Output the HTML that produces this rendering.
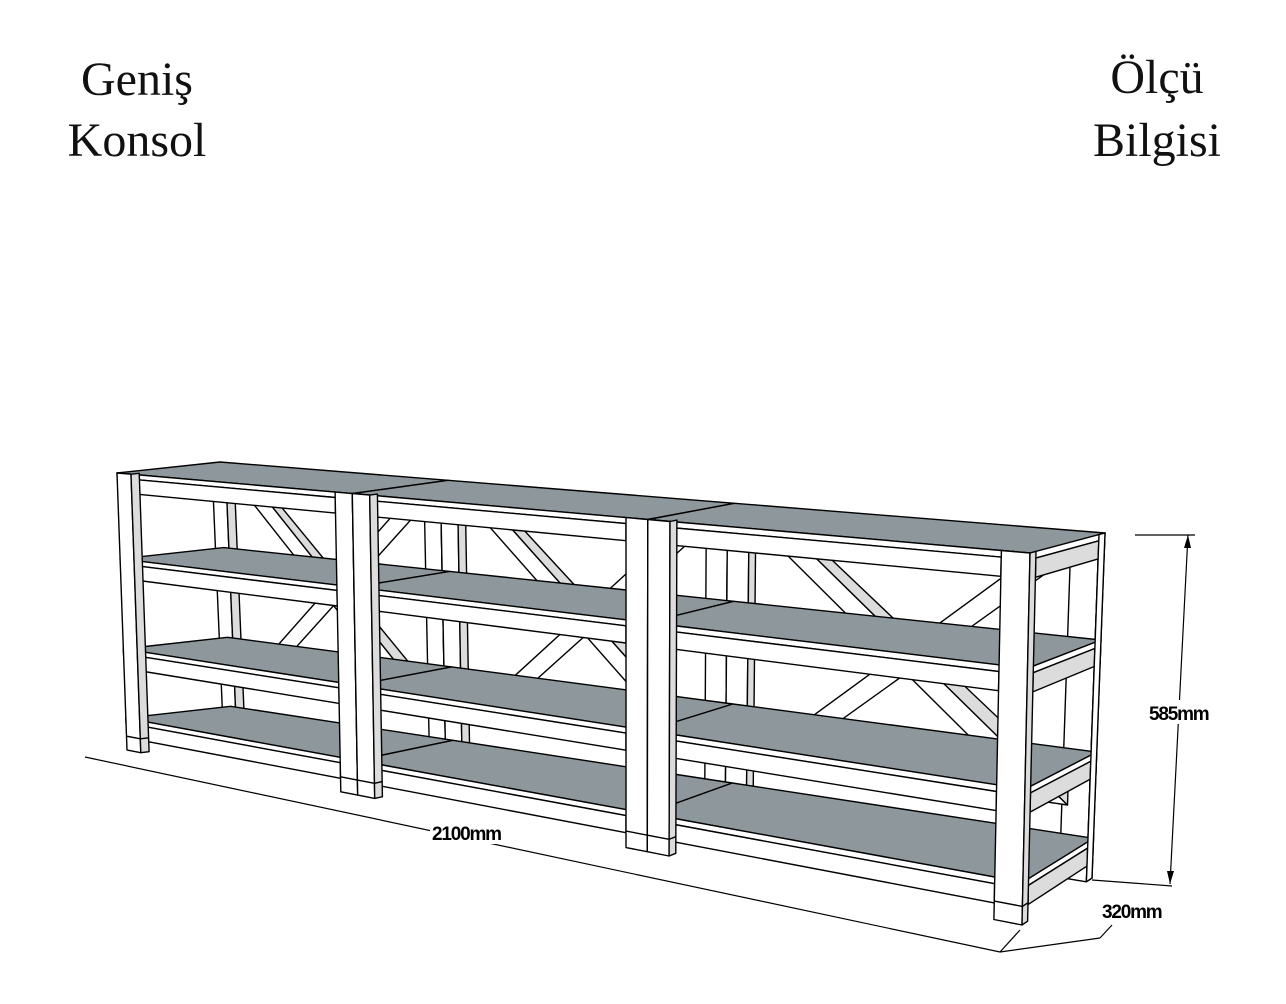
<!DOCTYPE html>
<html><head><meta charset="utf-8">
<style>
html,body{margin:0;padding:0;background:#fff;}
#wrap{position:relative;width:1286px;height:1004px;overflow:hidden;background:#fff;}
.t{position:absolute;font-family:"Liberation Serif",serif;font-size:48px;color:#111;text-align:center;width:300px;line-height:56px;}
svg{position:absolute;left:0;top:0;}
.d{font-family:"Liberation Sans",sans-serif;font-weight:bold;font-size:19px;letter-spacing:-1.2px;fill:#000;}
</style></head><body>
<div id="wrap">
<div class="t" style="left:-13px;top:52px">Geniş</div>
<div class="t" style="left:-13px;top:113px">Konsol</div>
<div class="t" style="left:1007px;top:50px">Ölçü</div>
<div class="t" style="left:1007px;top:113px">Bilgisi</div>
<svg id="s" width="1286" height="1004" viewBox="0 0 1286 1004">
<g id="g" stroke="#000" stroke-width="1.4" stroke-linejoin="round"></g>
<g stroke="#000" stroke-width="1.2" fill="none">
<line x1="85" y1="757" x2="1000" y2="952"/>
<line x1="1000" y1="952" x2="1020" y2="930"/>
<line x1="1000" y1="952" x2="1100" y2="938"/>
<line x1="1100" y1="938" x2="1112" y2="925"/>
<line x1="1092" y1="880" x2="1172" y2="886"/>
<line x1="1135" y1="535" x2="1195" y2="535"/>
<line x1="1188" y1="535" x2="1170" y2="884"/>
</g>
<polygon points="1188,535 1184,548 1191,548" fill="#000"/>
<polygon points="1170,884 1167,871 1174,871" fill="#000"/>
<rect x="430" y="820" width="74" height="24" fill="#fff"/>
<text class="d" x="432" y="840">2100mm</text>
<rect x="1148" y="700" width="80" height="24" fill="#fff"/>
<text class="d" x="1149" y="720">585mm</text>
<text class="d" x="1102" y="918">320mm</text>
</svg>
</div>
<script>
var F={TL:[117,473],TR:[1030,553],BL:[127,750],BR:[1022,925]};
var B={TL:[220,462],TR:[1105,533],BL:[232,738],BR:[1092,878]};
var C=1.44;
function wu(u){return u/(C-(C-1)*u);}
function bil(Q,u,v){
 var a=[Q.TL[0]+(Q.TR[0]-Q.TL[0])*u,Q.TL[1]+(Q.TR[1]-Q.TL[1])*u];
 var b=[Q.BL[0]+(Q.BR[0]-Q.BL[0])*u,Q.BL[1]+(Q.BR[1]-Q.BL[1])*u];
 return [a[0]+(b[0]-a[0])*v,a[1]+(b[1]-a[1])*v];}
function P(u,v,w){u=wu(u);var f=bil(F,u,v),b=bil(B,u,v);return [f[0]+(b[0]-f[0])*w,f[1]+(b[1]-f[1])*w];}
var g=document.getElementById('g');var out='';
function poly(pts,fill){out+='<polygon points="'+pts.map(function(p){return p[0].toFixed(1)+','+p[1].toFixed(1)}).join(' ')+'" fill="'+fill+'"/>';}
function line(a,b){out+='<line x1="'+a[0]+'" y1="'+a[1]+'" x2="'+b[0]+'" y2="'+b[1]+'"/>';}
var GR='#8e979b',WH='#ffffff',LG='#dcdcdc';
var pu=0.022,pd=0.08;
var levels=[0.885,0.635,0.31,0];
for(var i=0;i<3;i++){var s=i/3,e=(i+1)/3;
 [s,e-pu].forEach(function(a){
  poly([P(a,0,1-pd),P(a+pu,0,1-pd),P(a+pu,1,1-pd),P(a,1,1-pd)],WH);
  poly([P(a+pu,0,1-pd),P(a+pu,0,1),P(a+pu,1,1),P(a+pu,1,1-pd)],LG);
 });
 var bw=0.014;
 poly([P(s+pu,0.06,1),P(s+pu+bw*2,0.06,1),P(e-pu,0.8,1),P(e-pu-bw*2,0.8,1)],WH);
 poly([P(s+pu+bw*2,0.06,1),P(s+pu+bw*3,0.06,1),P(e-pu,0.74,1),P(e-pu,0.8,1)],LG);
 poly([P(s+pu,0.8,1),P(s+pu+bw*2,0.8,1),P(e-pu,0.06,1),P(e-pu-bw*2,0.06,1)],WH);
 levels.forEach(function(v){poly([P(s,v+0.02,1),P(e,v+0.02,1),P(e,v+0.07,1),P(s,v+0.07,1)],WH);});
}
levels.forEach(function(v){
 for(var i=0;i<3;i++){var s=i/3,e=(i+1)/3;
  poly([P(s,v,0),P(e,v,0),P(e,v,1),P(s,v,1)],GR);
  poly([P(s,v,0),P(e,v,0),P(e,v+0.018,0),P(s,v+0.018,0)],WH);
  poly([P(s+pu,v+0.018,0),P(e-pu,v+0.018,0),P(e-pu,v+0.07,0),P(s+pu,v+0.07,0)],WH);
 }
 poly([P(1,v,0),P(1,v,1),P(1,v+0.018,1),P(1,v+0.018,0)],WH);
 poly([P(1,v+0.018,pd),P(1,v+0.018,1-pd),P(1,v+0.07,1-pd),P(1,v+0.07,pd)],LG);
});
for(var i=0;i<3;i++){var s=i/3,e=(i+1)/3;
 [s,e-pu].forEach(function(a){
  poly([P(a,0,0),P(a+pu,0,0),P(a+pu,1,0),P(a,1,0)],WH);
  poly([P(a+pu,0,0),P(a+pu,0,pd),P(a+pu,1,pd),P(a+pu,1,0)],LG);
  line(P(a,0.95,0),P(a+pu,0.95,0));line(P(a+pu,0.95,0),P(a+pu,0.95,pd));
 });
}
poly([P(1,0,1-pd),P(1,0,1),P(1,1,1),P(1,1,1-pd)],WH);
g.innerHTML=out;
</script>
</body></html>
